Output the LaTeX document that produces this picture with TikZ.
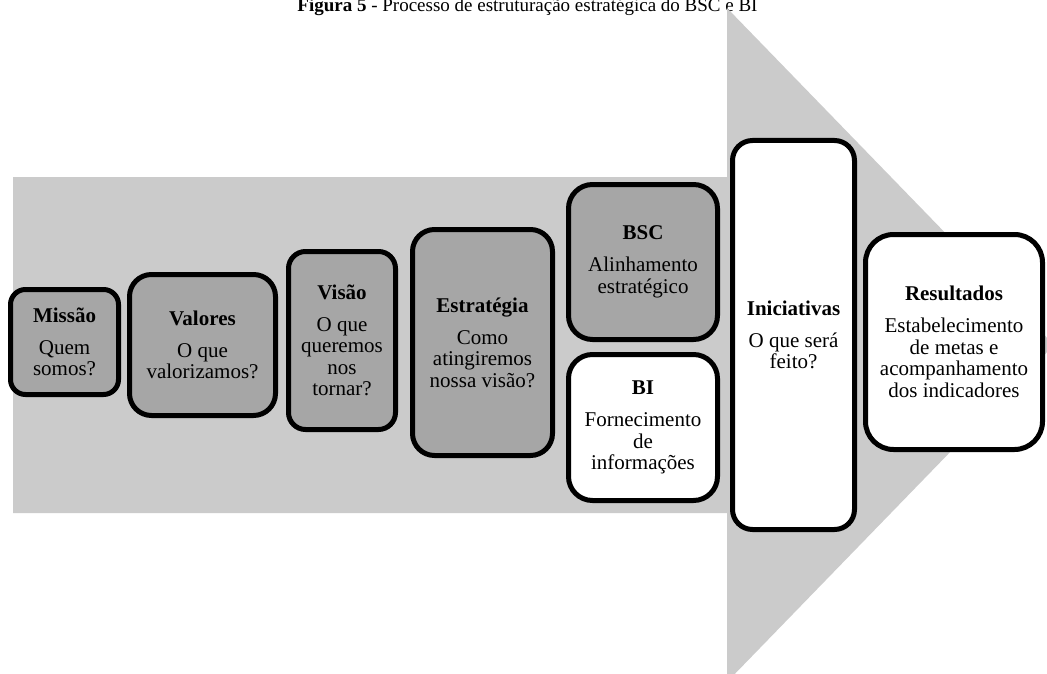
\documentclass[tikz,border=0pt]{standalone}
\usepackage{fontspec}
\setmainfont{Liberation Serif}
\definecolor{arrowgray}{RGB}{203,203,203}
\definecolor{boxgray}{RGB}{166,166,166}
\tikzset{
  stage/.style={draw=black, line width=5pt, fill=boxgray, align=center,
    inner sep=0pt, font=\fontsize{21}{21.5}\selectfont},
  stagewhite/.style={stage, fill=white},
}
\newcommand{\stagehead}[1]{\textbf{#1}\\[10.5pt]}
\begin{document}
\begin{tikzpicture}[x=1pt, y=-1pt]
  \useasboundingbox (0,0) rectangle (1047,674);
  % caption (its top runs off the upper edge)
  \node[anchor=base, inner sep=0pt, font=\fontsize{19}{20}\selectfont] (caption) at (527.5,11.5)
    {\textbf{Figura 5} - Processo de estruturação estratégica do BSC e BI};
  % background arrow
  \begin{scope}
    \clip (0,0) rectangle (1047,674);
    \fill[arrowgray] (13,177) -- (727,177) -- (727,8) -- (1054,345)
      -- (727,682) -- (727,513) -- (13,513) -- cycle;
  \end{scope}
  % stages
  \node[stage, minimum width=108pt, minimum height=105pt, rounded corners=15pt] (missao) at (64.5,342)
    {\stagehead{Missão}Quem\\somos?};
  \node[stage, minimum width=146pt, minimum height=141pt, rounded corners=22pt] (valores) at (202.5,345)
    {\stagehead{Valores}O que\\valorizamos?};
  \node[stage, minimum width=107pt, minimum height=178pt, rounded corners=17pt] (visao) at (342,340.5)
    {\stagehead{Visão}O que\\queremos\\nos\\tornar?};
  \node[stage, minimum width=140pt, minimum height=226pt, rounded corners=22pt] (estrategia) at (482.5,342.5)
    {\stagehead{Estratégia}Como\\atingiremos\\nossa visão?};
  \node[stage, minimum width=149pt, minimum height=155pt, rounded corners=24pt] (bsc) at (643,262)
    {\stagehead{BSC}Alinhamento\\estratégico};
  \node[stagewhite, minimum width=149pt, minimum height=146pt, rounded corners=24pt] (bi) at (643,427.5)
    {\stagehead{BI}Fornecimento\\de\\informações};
  \node[stagewhite, minimum width=122pt, minimum height=389pt, rounded corners=20pt] (iniciativas) at (793.5,335)
    {\stagehead{Iniciativas}O que será\\feito?};
  \node[stagewhite, minimum width=177pt, minimum height=215pt, rounded corners=28pt] (resultados) at (954,342)
    {\stagehead{Resultados}Estabelecimento\\de metas e\\acompanhamento\\dos indicadores};
\end{tikzpicture}
\end{document}
